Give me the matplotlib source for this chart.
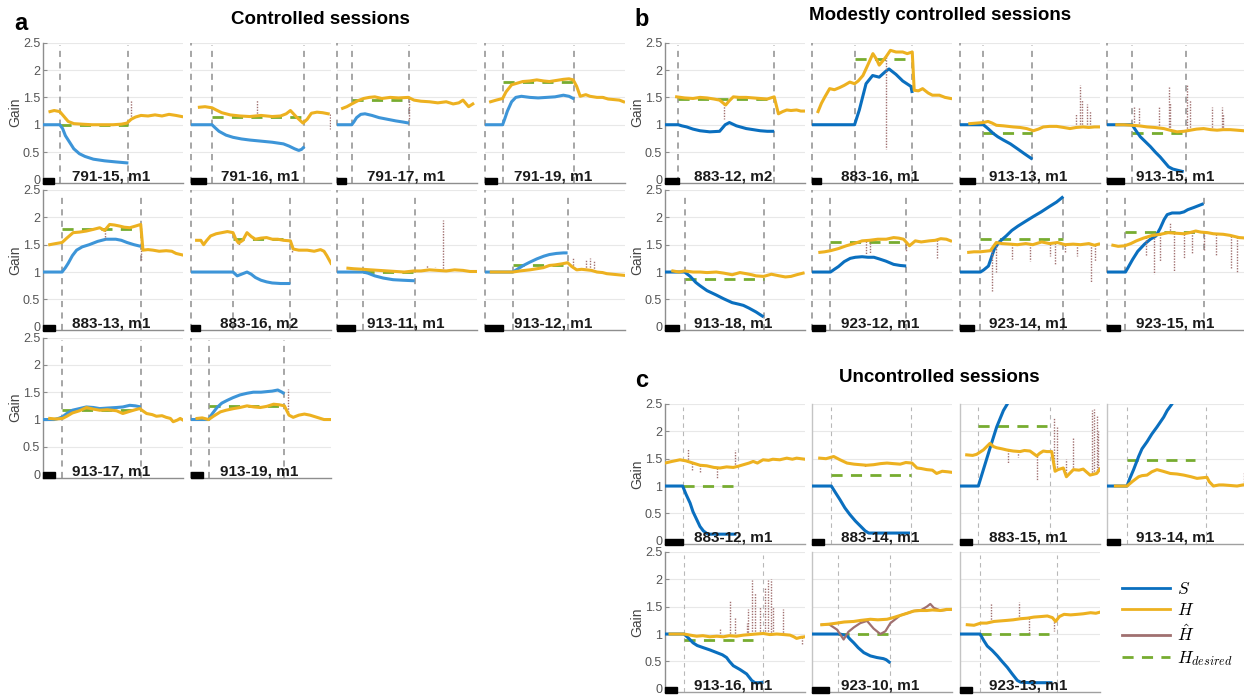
import matplotlib
matplotlib.use("Agg")
import numpy as np
import matplotlib.pyplot as plt
from matplotlib.patches import Rectangle
from matplotlib.lines import Line2D

plt.rcParams['font.family'] = ['Liberation Sans', 'DejaVu Sans']
plt.rcParams['mathtext.fontset'] = 'cm'

# ---------------------------------------------------------------- sessions
group_a = ["791-15, m1", "791-16, m1", "791-17, m1", "791-19, m1",
           "883-13, m1", "883-16, m2", "913-11, m1", "913-12, m1",
           "913-17, m1", "913-19, m1"]
group_b = ["883-12, m2", "883-16, m1", "913-13, m1", "913-15, m1",
           "913-18, m1", "923-12, m1", "923-14, m1", "923-15, m1"]
group_c = ["883-12, m1", "883-14, m1", "883-15, m1", "913-14, m1",
           "913-16, m1", "923-10, m1", "923-13, m1"]

# control period (% of session time) and baseline bar length
onset = {"791-15, m1": 12, "791-16, m1": 15.2, "791-17, m1": 10.5, "791-19, m1": 12.6,
         "883-13, m1": 13.6, "883-16, m2": 30, "913-11, m1": 18.6, "913-12, m1": 19.8,
         "913-17, m1": 13.6, "913-19, m1": 12.6,
         "883-12, m2": 9.5, "883-16, m1": 30.4, "913-13, m1": 16.7, "913-15, m1": 17.9,
         "913-18, m1": 14, "923-12, m1": 13.2, "923-14, m1": 14.6, "923-15, m1": 13.2,
         "883-12, m1": 12.6, "883-14, m1": 13.8, "883-15, m1": 13.1, "913-14, m1": 14.3,
         "913-16, m1": 13.6, "923-10, m1": 18.3, "923-13, m1": 14.3}
offset = {"791-15, m1": 61, "791-16, m1": 80.7, "791-17, m1": 51.4, "791-19, m1": 63.8,
          "883-13, m1": 69.8, "883-16, m2": 71, "913-11, m1": 55.5, "913-12, m1": 59,
          "913-17, m1": 69.8, "913-19, m1": 66.7,
          "883-12, m2": 78, "883-16, m1": 71.6, "913-13, m1": 51.7, "913-15, m1": 56.4,
          "913-18, m1": 70.4, "923-12, m1": 67.3, "923-14, m1": 73.8, "923-15, m1": 69,
          "883-12, m1": 52.4, "883-14, m1": 71, "883-15, m1": 64.3, "913-14, m1": 70.5,
          "913-16, m1": 70.2, "923-10, m1": 56, "923-13, m1": 69}
baseline_bar = {"791-15, m1": 8, "791-16, m1": 10.7, "791-17, m1": 6.7, "791-19, m1": 8.3,
                "883-13, m1": 8.3, "883-16, m2": 6.2, "913-11, m1": 12.6, "913-12, m1": 13,
                "913-17, m1": 8.3, "913-19, m1": 8.3,
                "883-12, m2": 10, "883-16, m1": 6.7, "913-13, m1": 10.7, "913-15, m1": 11.9,
                "913-18, m1": 9.9, "923-12, m1": 9, "923-14, m1": 9.9, "923-15, m1": 9.3,
                "883-12, m1": 12.6, "883-14, m1": 8.8, "883-15, m1": 8.3, "913-14, m1": 9,
                "913-16, m1": 8.8, "923-10, m1": 11.9, "923-13, m1": 8.8}

# desired gain and where its segment ends (defaults to the offset)
h_desired = {"791-15, m1": 1.0, "791-16, m1": 1.15, "791-17, m1": 1.46, "791-19, m1": 1.79,
             "883-13, m1": 1.79, "883-16, m2": 1.6, "913-11, m1": 1.0, "913-12, m1": 1.12,
             "913-17, m1": 1.17, "913-19, m1": 1.25,
             "883-12, m2": 1.47, "883-16, m1": 2.2, "913-13, m1": 0.84, "913-15, m1": 0.84,
             "913-18, m1": 0.87, "923-12, m1": 1.55, "923-14, m1": 1.6, "923-15, m1": 1.73,
             "883-12, m1": 1.0, "883-14, m1": 1.2, "883-15, m1": 2.1, "913-14, m1": 1.47,
             "913-16, m1": 0.9, "923-10, m1": 1.0, "923-13, m1": 1.0}
desired_end = {"883-12, m1": 49, "883-15, m1": 62, "913-14, m1": 63,
               "913-16, m1": 62.6, "923-10, m1": 54, "923-13, m1": 63.6}

# S traces
s_x = {
    "791-15, m1": [0, 12, 14, 16, 19, 22, 26, 30, 36, 44, 52, 61],
    "791-16, m1": [0, 15, 17, 20, 25, 30, 36, 42, 50, 58, 66, 70, 74, 77, 79, 81],
    "791-17, m1": [0, 10.5, 12, 14, 17, 20, 25, 30, 36, 42, 47, 51.4],
    "791-19, m1": [0, 12.6, 14, 16, 19, 22, 26, 32, 38, 44, 50, 56, 60, 63.8],
    "883-13, m1": [0, 13.6, 16, 18, 21, 24, 28, 33, 39, 45, 52, 56, 60, 65, 69.8],
    "883-16, m2": [0, 30, 33, 36, 40, 43, 46, 50, 54, 58, 64, 71],
    "913-11, m1": [0, 18.6, 22, 27, 33, 40, 47, 55.5],
    "913-12, m1": [0, 19.8, 23, 27.4, 32, 37, 42, 46, 51, 56, 59],
    "913-17, m1": [0, 8, 11, 14, 17, 21, 26, 31, 36, 40.5, 46, 52.6, 57, 62, 66, 69.8],
    "913-19, m1": [0, 12.6, 15, 18.6, 22, 25.8, 30, 35, 40, 44.5, 50, 54, 58, 62, 65, 66.7],
    "883-12, m2": [0, 9.5, 12, 15.5, 20, 25, 32, 39, 43, 46, 51, 58, 63, 68, 73, 78],
    "883-16, m1": [0, 30.4, 33.8, 38.6, 43.3, 48, 52.8, 55, 60, 64.8, 70.7, 71.6],
    "913-13, m1": [0, 16.7, 20, 23.8, 27, 31, 36, 40.5, 46, 51.7],
    "913-15, m1": [0, 17.9, 21, 23.8, 27, 31, 34.5, 38, 41, 44, 47, 50, 54.8],
    "913-18, m1": [0, 14, 18, 22, 25, 30, 36.6, 42, 48, 53, 56, 60, 65, 70.4],
    "923-12, m1": [0, 13.2, 16, 18.9, 23, 27.3, 31, 35.8, 40, 44.2, 48, 52.7, 58.3, 63, 67.3],
    "923-14, m1": [0, 14.6, 17, 20.3, 24.5, 28, 33, 37, 41.4, 47, 52.7, 58, 64, 69, 73.8],
    "923-15, m1": [0, 13.2, 15, 18.3, 22, 26.8, 31, 35, 38, 40.8, 43, 46.5, 49, 52, 55, 57.7, 62, 66, 69],
    "883-12, m1": [0, 12.6, 15, 17.9, 20, 22.6, 25, 27.4, 30, 32, 40, 51],
    "883-14, m1": [0, 13.8, 17, 20, 23.5, 27, 31, 34.5, 38, 40.5, 50, 60, 70],
    "883-15, m1": [0, 13.1, 16.7, 21.4, 26.2, 31, 33.8, 35.5],
    "913-14, m1": [0, 14.3, 16, 19, 22.6, 25, 28.6, 32, 35.7, 40.5, 43, 46.4, 48],
    "913-16, m1": [0, 13.6, 17, 20, 23, 27.4, 32, 37, 41, 44, 46, 48.8, 53.6, 58.3, 62, 64.3, 67, 70.2],
    "923-10, m1": [0, 20, 25, 27, 29.8, 33, 37, 41.7, 46.4, 51, 53, 56],
    "923-13, m1": [0, 14.3, 17, 19.5, 23, 26.7, 30, 33.8, 37, 41, 43.3, 50, 58, 66],
}
s_y = {
    "791-15, m1": [1, 1, 0.93, 0.8, 0.68, 0.56, 0.47, 0.42, 0.37, 0.34, 0.32, 0.3],
    "791-16, m1": [1, 1, 0.95, 0.88, 0.81, 0.77, 0.74, 0.72, 0.7, 0.68, 0.65, 0.61, 0.56, 0.53, 0.55, 0.6],
    "791-17, m1": [1, 1, 1.05, 1.13, 1.19, 1.2, 1.17, 1.13, 1.1, 1.07, 1.05, 1.03],
    "791-19, m1": [1, 1, 1.1, 1.25, 1.42, 1.5, 1.52, 1.5, 1.49, 1.5, 1.51, 1.54, 1.52, 1.47],
    "883-13, m1": [1, 1, 1.08, 1.16, 1.3, 1.4, 1.46, 1.5, 1.56, 1.6, 1.6, 1.58, 1.54, 1.5, 1.47],
    "883-16, m2": [1, 1, 0.93, 0.96, 1.0, 0.96, 0.9, 0.85, 0.82, 0.8, 0.79, 0.79],
    "913-11, m1": [1, 1, 0.98, 0.93, 0.89, 0.86, 0.85, 0.84],
    "913-12, m1": [1, 1, 1.05, 1.12, 1.18, 1.24, 1.29, 1.32, 1.34, 1.35, 1.35],
    "913-17, m1": [1, 1, 1.02, 1.05, 1.11, 1.17, 1.2, 1.23, 1.22, 1.2, 1.21, 1.22, 1.23, 1.26, 1.25, 1.23],
    "913-19, m1": [1, 1, 1.1, 1.22, 1.3, 1.35, 1.4, 1.45, 1.48, 1.5, 1.5, 1.51, 1.52, 1.54, 1.5, 1.47],
    "883-12, m2": [1, 1, 0.98, 0.96, 0.92, 0.89, 0.87, 0.88, 1.0, 1.04, 0.98, 0.93, 0.91, 0.89, 0.88, 0.88],
    "883-16, m1": [1, 1, 1.27, 1.75, 1.9, 1.87, 1.98, 2.02, 1.92, 1.8, 1.7, 1.58],
    "913-13, m1": [1, 1, 0.93, 0.84, 0.78, 0.72, 0.65, 0.57, 0.47, 0.37],
    "913-15, m1": [1, 1, 0.88, 0.78, 0.7, 0.6, 0.5, 0.41, 0.32, 0.23, 0.19, 0.17, 0.14],
    "913-18, m1": [1, 1, 0.92, 0.81, 0.75, 0.66, 0.58, 0.51, 0.44, 0.41, 0.39, 0.34, 0.27, 0.18],
    "923-12, m1": [1, 1, 1.05, 1.1, 1.19, 1.25, 1.27, 1.28, 1.27, 1.27, 1.24, 1.2, 1.14, 1.12, 1.11],
    "923-14, m1": [1, 1, 1.04, 1.11, 1.42, 1.55, 1.66, 1.76, 1.84, 1.93, 2.02, 2.1, 2.2, 2.28, 2.38],
    "923-15, m1": [1, 1, 1.08, 1.23, 1.38, 1.51, 1.6, 1.66, 1.8, 1.96, 2.05, 2.08, 2.08, 2.08, 2.1, 2.14, 2.18, 2.22, 2.25],
    "883-12, m1": [1, 1, 0.85, 0.69, 0.53, 0.39, 0.26, 0.18, 0.13, 0.12, 0.12, 0.12],
    "883-14, m1": [1, 1, 0.87, 0.75, 0.6, 0.48, 0.36, 0.27, 0.18, 0.14, 0.14, 0.14, 0.14],
    "883-15, m1": [1, 1, 1.3, 1.69, 2.08, 2.38, 2.5, 2.6],
    "913-14, m1": [1, 1, 1.12, 1.3, 1.54, 1.68, 1.81, 1.95, 2.08, 2.26, 2.38, 2.5, 2.58],
    "913-16, m1": [1, 1, 0.92, 0.84, 0.79, 0.75, 0.71, 0.66, 0.62, 0.57, 0.5, 0.42, 0.35, 0.27, 0.15, 0.11, 0.11, 0.12],
    "923-10, m1": [1, 1, 0.97, 0.91, 0.84, 0.75, 0.66, 0.6, 0.57, 0.55, 0.53, 0.47],
    "923-13, m1": [1, 1, 0.88, 0.78, 0.7, 0.6, 0.5, 0.39, 0.28, 0.15, 0.12, 0.11, 0.11, 0.11],
}

# H traces
h_x = {
    "791-15, m1": [5, 8, 12, 15, 18, 22, 28, 35, 42, 50, 56, 60, 63, 66, 70, 75, 80, 85, 90, 95, 99],
    "791-16, m1": [6, 10, 15, 18, 22, 28, 35, 42, 50, 58, 64, 68, 71, 75, 80, 83, 86, 90, 94, 98],
    "791-17, m1": [4, 7, 10.5, 15, 19, 23, 27, 32, 38, 44, 51, 55, 60, 66, 72, 78, 83, 87, 90, 94, 97],
    "791-19, m1": [4, 8, 12.6, 15, 19, 23, 27, 32, 37, 42, 46, 51, 56, 60, 63, 65.5, 68, 72, 75, 80, 84, 88, 92, 96, 99],
    "883-13, m1": [4.8, 9, 13.6, 17, 21.5, 26, 31, 36, 40.5, 44, 47.6, 51, 54.8, 58, 62, 66, 69.8, 71.4, 75, 78.5, 83, 88, 92, 95, 100],
    "883-16, m2": [4, 7, 9, 11, 14, 18, 22, 26, 30, 32, 34, 37, 40, 43, 46, 50, 54, 58, 62, 66, 71, 73, 77, 83, 88, 92.5, 95, 97, 100],
    "913-11, m1": [7.8, 12, 18.6, 24, 30, 36, 42, 48, 55, 60, 66, 72, 78, 84, 90, 95, 99],
    "913-12, m1": [4.5, 10, 15, 19.8, 25, 32, 37, 41.7, 46, 50, 55, 59, 62, 65.5, 69, 72.6, 76, 80, 84, 87, 91, 95, 99],
    "913-17, m1": [4.8, 9, 14, 17, 21, 26, 31, 36, 40.5, 46, 52.6, 57, 62, 66, 69, 74, 78, 81, 85, 88, 91, 93, 96, 98, 100],
    "913-19, m1": [4.3, 8, 12.6, 16, 21, 25, 30.4, 35, 40, 45, 49.5, 54, 59, 63, 66.7, 70, 73, 77, 81, 85, 90, 95, 100],
    "883-12, m2": [8.3, 14, 20, 25, 30, 35, 39, 43.3, 46, 48.8, 53, 58, 63, 68, 73, 78, 81, 84, 87, 90, 94, 97, 100],
    "883-16, m1": [4.3, 6.7, 9, 12.6, 16, 19.8, 23, 27, 30.4, 33, 36.4, 40, 43.5, 46, 48, 50, 52.8, 56, 60, 64.8, 68, 71.6, 73, 76, 79, 83, 86, 91, 95, 99],
    "913-13, m1": [7, 12, 16.7, 20, 23, 26, 31, 38, 43, 47.6, 52.4, 56, 59.5, 64, 69, 74, 78.6, 83, 88, 92, 96, 100],
    "913-15, m1": [7, 12, 17.9, 23, 28.6, 34, 40.5, 45, 50, 55, 59.5, 64, 69, 74, 78.6, 83, 88, 93, 97.6, 100],
    "913-18, m1": [5.6, 10, 14, 20, 25, 30, 36.6, 42, 48, 53.5, 58, 62, 65, 70.4, 76, 81.7, 86, 90, 94, 98.6],
    "923-12, m1": [5.6, 9, 13.2, 19, 24.5, 30, 35.8, 41, 47, 53, 58.3, 62, 65.4, 69.6, 73.8, 78, 83.7, 88, 92, 96, 99],
    "923-14, m1": [6.2, 10, 14.6, 18, 21.7, 25.9, 30, 35.8, 41, 47, 52, 58.3, 64, 69.6, 75, 80.8, 86, 92, 96, 99],
    "923-15, m1": [4.2, 8, 12.7, 17, 21, 26, 32.4, 38, 43.7, 49, 55, 59, 63.4, 67, 71.8, 76, 83, 88, 94.4, 100],
    "883-12, m1": [0, 5, 10.7, 15, 20, 25, 29.8, 35, 39.3, 44, 48.8, 52, 56, 60, 63, 66, 70, 74, 77, 82, 87, 91, 94, 97, 100],
    "883-14, m1": [5.5, 10, 15.5, 20, 25, 30, 34.5, 39, 44, 49, 53.6, 58, 63, 67, 71.4, 75, 78, 82, 86, 89, 93, 97, 100],
    "883-15, m1": [4.8, 9, 11.9, 16.7, 21.4, 24, 26.2, 30, 33.3, 38, 42.9, 46, 50, 54.8, 57, 59.5, 62, 65.5, 67.9, 70, 73.8, 76, 81, 85, 88, 92.9, 97.6, 100],
    "913-14, m1": [6, 10, 14.3, 18, 22.6, 25, 28.6, 32, 35.7, 40, 45.2, 50, 54.8, 60, 64.3, 68, 71.4, 73, 76, 80, 83, 88, 92.9, 97, 100],
    "913-16, m1": [3.6, 8, 13.6, 18, 22.6, 27, 32, 37, 41.7, 46, 51, 56, 60.5, 65, 70.2, 75, 79.8, 85, 89.3, 92, 94, 97, 100],
    "923-10, m1": [7, 12, 17.9, 23, 29.8, 35, 41.7, 47, 53.6, 58, 63, 68, 72.6, 77, 82, 86, 91.7, 96, 100],
    "923-13, m1": [5.2, 10, 14.8, 19, 24.3, 29, 33.8, 38, 43.3, 48, 52.8, 58, 62.4, 66, 68.3, 71, 74.3, 79, 83.8, 88, 93.3, 97, 100],
}
h_y = {
    "791-15, m1": [1.24, 1.26, 1.24, 1.15, 1.06, 1.02, 1.01, 1.0, 1.0, 1.0, 1.01, 1.03, 1.1, 1.14, 1.17, 1.16, 1.18, 1.16, 1.19, 1.17, 1.15],
    "791-16, m1": [1.32, 1.33, 1.31, 1.27, 1.22, 1.18, 1.16, 1.15, 1.17, 1.15, 1.16, 1.2, 1.26, 1.15, 1.03, 1.1, 1.21, 1.23, 1.22, 1.2],
    "791-17, m1": [1.3, 1.33, 1.38, 1.44, 1.48, 1.5, 1.51, 1.48, 1.5, 1.49, 1.5, 1.45, 1.43, 1.42, 1.4, 1.42, 1.38, 1.4, 1.45, 1.33, 1.38],
    "791-19, m1": [1.42, 1.45, 1.48, 1.6, 1.73, 1.76, 1.79, 1.8, 1.82, 1.8, 1.79, 1.81, 1.83, 1.84, 1.82, 1.7, 1.52, 1.55, 1.52, 1.5, 1.5, 1.47, 1.46, 1.45, 1.42],
    "883-13, m1": [1.5, 1.52, 1.54, 1.62, 1.72, 1.73, 1.75, 1.78, 1.81, 1.76, 1.87, 1.86, 1.84, 1.82, 1.81, 1.84, 1.87, 1.4, 1.41, 1.4, 1.38, 1.39, 1.38, 1.34, 1.31],
    "883-16, m2": [1.58, 1.58, 1.5, 1.57, 1.66, 1.7, 1.72, 1.74, 1.72, 1.6, 1.53, 1.58, 1.72, 1.65, 1.6, 1.62, 1.63, 1.6, 1.6, 1.58, 1.57, 1.42, 1.4, 1.4, 1.38, 1.41, 1.38, 1.3, 1.16],
    "913-11, m1": [1.07, 1.06, 1.05, 1.04, 1.03, 1.02, 1.01, 1.0, 1.02, 1.02, 1.04, 1.03, 1.02, 1.04, 1.03, 1.01, 1.01],
    "913-12, m1": [1.0, 1.0, 1.0, 1.0, 1.02, 1.04, 1.06, 1.08, 1.12, 1.13, 1.15, 1.17, 1.1, 1.04, 1.05, 1.04, 1.03, 1.0, 0.99, 0.97, 0.96, 0.95, 0.94],
    "913-17, m1": [1.02, 1.01, 1.02, 1.06, 1.12, 1.16, 1.22, 1.19, 1.17, 1.18, 1.16, 1.11, 1.15, 1.18, 1.2, 1.11, 1.09, 1.06, 1.07, 1.04, 1.02, 0.96, 0.99, 1.02, 0.99],
    "913-19, m1": [1.02, 1.03, 1.0, 1.06, 1.14, 1.17, 1.2, 1.22, 1.25, 1.23, 1.22, 1.24, 1.28, 1.27, 1.25, 1.08, 1.04, 1.08, 1.1, 1.08, 1.04, 1.0, 1.0],
    "883-12, m2": [1.51, 1.49, 1.48, 1.5, 1.49, 1.47, 1.45, 1.36, 1.44, 1.51, 1.5, 1.5, 1.49, 1.48, 1.47, 1.51, 1.2, 1.24, 1.27, 1.26, 1.27, 1.25, 1.25],
    "883-16, m1": [1.24, 1.39, 1.5, 1.66, 1.64, 1.68, 1.72, 1.78, 1.75, 1.8, 1.9, 2.1, 2.3, 2.2, 2.09, 2.15, 2.24, 2.36, 2.33, 2.33, 2.3, 2.33, 1.63, 1.62, 1.66, 1.58, 1.54, 1.54, 1.5, 1.48],
    "913-13, m1": [1.02, 1.03, 1.04, 1.06, 1.03, 0.99, 0.98, 0.96, 0.95, 0.93, 0.89, 0.92, 0.96, 0.97, 0.97, 0.95, 0.93, 0.95, 0.96, 0.95, 0.96, 0.96],
    "913-15, m1": [1.0, 1.0, 0.99, 0.98, 0.96, 0.95, 0.93, 0.9, 0.87, 0.88, 0.9, 0.92, 0.93, 0.91, 0.9, 0.91, 0.91, 0.9, 0.89, 0.89],
    "913-18, m1": [1.02, 1.0, 1.02, 1.0, 1.0, 0.99, 1.0, 0.98, 0.95, 0.99, 0.97, 0.95, 0.93, 0.92, 0.96, 0.93, 0.91, 0.92, 0.95, 0.98],
    "923-12, m1": [1.36, 1.37, 1.39, 1.43, 1.48, 1.52, 1.57, 1.58, 1.6, 1.6, 1.63, 1.62, 1.6, 1.48, 1.57, 1.55, 1.57, 1.58, 1.61, 1.6, 1.57],
    "923-14, m1": [1.36, 1.37, 1.37, 1.38, 1.39, 1.54, 1.52, 1.51, 1.5, 1.52, 1.5, 1.55, 1.52, 1.54, 1.5, 1.51, 1.5, 1.52, 1.49, 1.51],
    "923-15, m1": [1.49, 1.47, 1.48, 1.52, 1.57, 1.62, 1.67, 1.69, 1.72, 1.71, 1.7, 1.72, 1.75, 1.73, 1.72, 1.7, 1.69, 1.67, 1.63, 1.62],
    "883-12, m1": [1.42, 1.45, 1.48, 1.46, 1.42, 1.38, 1.37, 1.34, 1.33, 1.35, 1.34, 1.36, 1.39, 1.42, 1.45, 1.42, 1.48, 1.47, 1.49, 1.48, 1.51, 1.49, 1.51, 1.5, 1.49],
    "883-14, m1": [1.51, 1.5, 1.54, 1.48, 1.42, 1.4, 1.39, 1.38, 1.39, 1.41, 1.42, 1.41, 1.4, 1.43, 1.42, 1.33, 1.32, 1.3, 1.29, 1.23, 1.27, 1.26, 1.25],
    "883-15, m1": [1.57, 1.56, 1.58, 1.66, 1.78, 1.72, 1.7, 1.68, 1.66, 1.64, 1.63, 1.65, 1.64, 1.55, 1.6, 1.64, 1.63, 1.63, 1.27, 1.3, 1.33, 1.17, 1.3, 1.29, 1.31, 1.2, 1.23, 1.31],
    "913-14, m1": [1.0, 1.0, 1.0, 1.08, 1.17, 1.19, 1.2, 1.26, 1.3, 1.27, 1.23, 1.22, 1.2, 1.17, 1.14, 1.15, 1.16, 1.08, 1.0, 1.02, 1.02, 1.01, 1.0, 1.02, 1.03],
    "913-16, m1": [1.0, 1.0, 1.0, 0.98, 0.96, 0.97, 0.95, 0.96, 0.95, 0.97, 0.96, 0.98, 0.99, 1.0, 1.01, 0.99, 1.0, 0.99, 0.98, 0.95, 0.92, 0.94, 0.95],
    "923-10, m1": [1.17, 1.18, 1.2, 1.22, 1.23, 1.25, 1.27, 1.26, 1.27, 1.3, 1.34, 1.38, 1.42, 1.43, 1.43, 1.44, 1.43, 1.45, 1.45],
    "923-13, m1": [1.17, 1.16, 1.2, 1.2, 1.23, 1.24, 1.25, 1.26, 1.28, 1.29, 1.31, 1.32, 1.33, 1.3, 1.23, 1.32, 1.36, 1.35, 1.36, 1.37, 1.39, 1.38, 1.4],
}

# estimated gain where it departs from H as a trace
hhat_x = {"923-10, m1": [7, 12, 17.9, 20, 22.6, 26, 29.8, 34.5, 39.3, 44, 48.8, 52.4, 56, 63,
                         72.6, 78, 82, 84.5, 87, 91.7, 100]}
hhat_y = {"923-10, m1": [1.17, 1.18, 1.08, 1.0, 0.9, 1.04, 1.12, 1.2, 1.24, 1.1, 1.0, 1.05, 1.2,
                         1.34, 1.42, 1.44, 1.5, 1.55, 1.48, 1.43, 1.45]}

# estimated gain: transient excursions (time, extreme value)
hhat_spikes = {
    "791-15, m1": [(16, 1.1), (63, 1.45)],
    "791-16, m1": [(47, 1.45), (99, 0.93)],
    "791-17, m1": [(51.4, 1.08)],
    "791-19, m1": [(84, 1.55)],
    "883-13, m1": [(44, 1.6), (70, 1.22)],
    "883-16, m2": [(34, 1.5), (72, 1.35)],
    "913-11, m1": [(64, 1.12), (70, 1.1), (76, 1.95)],
    "913-12, m1": [(63, 1.25), (72, 1.22), (75, 1.25), (78, 1.2)],
    "913-19, m1": [(69, 1.55)],
    "883-12, m2": [(42, 1.1)],
    "883-16, m1": [(53, 0.55)],
    "913-13, m1": [(83, 1.2), (85.7, 1.72), (87, 1.45), (90.5, 1.38), (93, 1.25)],
    "913-15, m1": [(19, 1.33), (22.6, 1.3), (36.9, 1.33), (44, 1.69), (45, 1.4), (57, 1.72),
                   (59, 1.45), (75, 1.33), (82, 1.33), (83, 1.2)],
    "923-12, m1": [(38.6, 1.33), (41.4, 1.35), (66.8, 1.38), (89.3, 1.26)],
    "923-14, m1": [(23.1, 0.66), (25.9, 1.0), (37.2, 1.23), (49.9, 1.2), (64, 1.3), (68, 1.15),
                   (75, 1.35), (83.7, 1.3), (93.5, 0.81), (96.3, 1.2)],
    "923-15, m1": [(28.2, 1.3), (33.8, 0.96), (38, 1.2), (45, 1.9), (47.9, 1.02), (55, 1.25),
                   (60.6, 1.35), (69, 1.4), (77.5, 1.3), (88.7, 1.05), (93, 1.0)],
    "883-12, m1": [(16.7, 1.68), (19, 1.3), (25, 1.25), (37, 1.15), (50, 1.65)],
    "883-14, m1": [(38, 1.35)],
    "883-15, m1": [(34.5, 1.42), (41.7, 1.54), (54.8, 1.11), (67.4, 2.26), (69, 2.08),
                   (75.7, 1.5), (81, 1.87), (94, 2.39), (95.7, 2.4), (97.6, 2.3), (98.8, 2.0)],
    "913-14, m1": [(98, 1.25)],
    "913-16, m1": [(39.3, 1.1), (46.4, 1.62), (50, 1.3), (58.3, 1.2), (59.5, 1.45), (62, 1.99),
                   (64.3, 1.75), (67.9, 1.5), (71.4, 1.85), (73.8, 1.98), (75.5, 2.0),
                   (77.4, 1.5), (84.5, 1.45), (97.6, 0.8)],
    "923-13, m1": [(21.9, 1.57), (42, 1.58), (49.3, 1.0), (67, 1.05)],
}

# ---------------------------------------------------------------- styling
W, H = 1244, 696
C_S_LIGHT = "#3d95d8"
C_S = "#0a6fbf"
C_H = "#edb120"
C_HHAT = "#a07070"
C_DES = "#77ac30"
GAIN_TICKS = [0, 0.5, 1, 1.5, 2, 2.5]
GAIN_LABELS = ["0", "0.5", "1", "1.5", "2", "2.5"]

fig = plt.figure(figsize=(W / 100, H / 100), dpi=100)


def make_axes(left_px, top_px, w_px=140, h_px=140):
    return fig.add_axes([left_px / W, 1 - (top_px + h_px) / H, w_px / W, h_px / H])


def draw_session(ax, name, section, first_col):
    ax.set_xlim(0, 100)
    ax.set_ylim(-0.06, 2.5)
    light = section == "c"
    vcol = "#b8b8b8" if light else "#8e8e8e"
    vlw = 0.8 if light else 1.1

    for g in GAIN_TICKS[1:]:
        ax.axhline(g, color="#e8e8e8", lw=0.8, zorder=0)

    for t in (onset[name], offset[name]):
        ax.plot([t, t], [-0.06, 2.45], color=vcol, lw=vlw, dashes=(4, 3.5), zorder=1)
    if not first_col:
        if light:
            ax.plot([0, 0], [-0.06, 2.5], color="#c4c4c4", lw=1.0, zorder=1, clip_on=False)
        else:
            ax.plot([0, 0], [-0.06, 2.5], color="#8e8e8e", lw=1.1, dashes=(4, 3.5),
                    zorder=1, clip_on=False)

    d_end = desired_end.get(name, offset[name])
    ax.plot([onset[name], d_end], [h_desired[name]] * 2, color=C_DES, lw=2.0,
            dashes=(4, 3), zorder=2)

    sc = C_S_LIGHT if section == "a" else C_S
    ax.plot(s_x[name], s_y[name], color=sc, lw=2.2, zorder=3, solid_capstyle="butt")

    if name in hhat_x:
        ax.plot(hhat_x[name], hhat_y[name], color=C_HHAT, lw=1.6, zorder=3.5)
    for sx, sy in hhat_spikes.get(name, []):
        base = np.interp(sx, h_x[name], h_y[name])
        ax.plot([sx, sx], [base, sy], color=C_HHAT, lw=1.0, ls=(0, (1, 1)), zorder=3.6)

    ax.plot(h_x[name], h_y[name], color=C_H, lw=2.2, zorder=4)

    ax.add_patch(Rectangle((0, -0.075), baseline_bar[name], 0.11, color="black",
                           zorder=6, clip_on=False))
    ax.text(49, -0.02, name, ha="center", va="baseline", fontsize=11,
            fontweight="bold", color="#1a1a1a", zorder=5)

    for side in ("top", "right"):
        ax.spines[side].set_visible(False)
    ax.spines["bottom"].set_color("#a0a0a0" if light else "#8e8e8e")
    ax.spines["bottom"].set_linewidth(1.0)
    ax.set_xticks([])
    if first_col:
        ax.spines["left"].set_color("#8e8e8e")
        ax.spines["left"].set_linewidth(1.0)
        ax.set_yticks(GAIN_TICKS)
        ax.set_yticklabels(GAIN_LABELS)
        ax.tick_params(axis="y", direction="in", length=3, color="#8e8e8e",
                       labelcolor="#555555", labelsize=9, pad=2)
        ax.text(-0.2, 0.5, "Gain", rotation=90, ha="center", va="center",
                transform=ax.transAxes, fontsize=10, color="#444444")
    else:
        ax.spines["left"].set_visible(False)
        ax.set_yticks([])
    ax.patch.set_alpha(0)


cols_a = [43, 191, 337, 485]
rows_a = [42.7, 190, 337.5]
cols_bc = [665, 812, 960, 1107]
rows_b = [42.7, 190]
rows_c = [404, 552]

for i, name in enumerate(group_a):
    r, c = divmod(i, 4)
    draw_session(make_axes(cols_a[c], rows_a[r]), name, "a", c == 0)
for i, name in enumerate(group_b):
    r, c = divmod(i, 4)
    draw_session(make_axes(cols_bc[c], rows_b[r]), name, "b", c == 0)
for i, name in enumerate(group_c):
    r, c = divmod(i, 4)
    draw_session(make_axes(cols_bc[c], rows_c[r]), name, "c", c == 0)


def fig_text(x_px, y_px, s, **kw):
    fig.text(x_px / W, 1 - y_px / H, s, **kw)


fig_text(21, 23, "a", fontsize=17, fontweight="bold", ha="center", va="center")
fig_text(642, 20, "b", fontsize=17, fontweight="bold", ha="center", va="center")
fig_text(642, 380, "c", fontsize=17, fontweight="bold", ha="center", va="center")
fig_text(320, 20, "Controlled sessions", fontsize=13.5, fontweight="bold",
         ha="center", va="center")
fig_text(940, 15, "Modestly controlled sessions", fontsize=13.5, fontweight="bold",
         ha="center", va="center")
fig_text(939, 377, "Uncontrolled sessions", fontsize=13.5, fontweight="bold",
         ha="center", va="center")

handles = [Line2D([], [], color=C_S, lw=2.0),
           Line2D([], [], color=C_H, lw=2.0),
           Line2D([], [], color=C_HHAT, lw=2.0),
           Line2D([], [], color=C_DES, lw=2.0, dashes=(4, 3))]
fig.legend(handles, [r"$S$", r"$H$", r"$\hat{H}$", r"$H_{desired}$"],
           loc="upper left", bbox_to_anchor=(1106 / W, 1 - 565 / H), frameon=False,
           fontsize=12.5, handlelength=2.8, handletextpad=0.4, labelspacing=0.3)

fig.savefig("out.png", dpi=100)
